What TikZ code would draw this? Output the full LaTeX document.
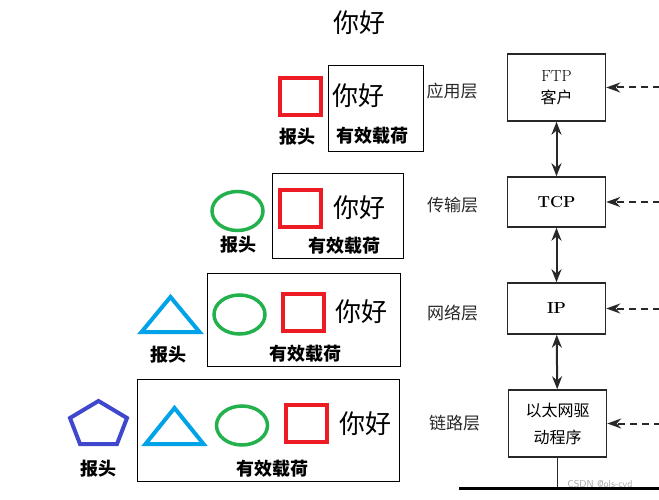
\documentclass[tikz,border=0pt]{standalone}
\usepackage{fontspec}
\newfontfamily\cjk{Noto Sans CJK SC}
\usetikzlibrary{positioning,arrows.meta,shapes.geometric}
\definecolor{hdrRed}{RGB}{237,28,36}
\definecolor{hdrGreen}{RGB}{34,177,76}
\definecolor{hdrBlue}{RGB}{0,162,232}
\definecolor{hdrIndigo}{RGB}{63,72,204}
\definecolor{scanGray}{RGB}{40,40,40}

\tikzset{
  hdrsq/.style={draw=hdrRed,line width=4pt,minimum width=41,minimum height=37,inner sep=0},
  hdrell/.style={draw=hdrGreen,ellipse,line width=3.5pt,minimum width=51,minimum height=39,inner sep=0},
  hello/.style={inner sep=0,font=\cjk\fontsize{26}{26}\selectfont},
  cjktxt/.style={inner sep=0,font=\cjk\bfseries\fontsize{18}{18}\selectfont},
  payload/.style={draw,line width=1pt,inner sep=0},
  layerbox/.style={draw=scanGray,line width=1.5pt,minimum width=98,inner sep=0,align=center},
  layertxt/.style={scanGray,inner sep=0,font=\cjk\fontsize{17}{17}\selectfont},
  updown/.style={scanGray,line width=2pt,{Stealth[length=13pt,width=10pt]}-{Stealth[length=13pt,width=10pt]}},
  sidein/.style={scanGray,line width=2pt,dash pattern=on 7pt off 5pt,-{Stealth[length=14pt,width=10pt]}}
}

\begin{document}
\begin{tikzpicture}[x=1pt,y=-1pt]
    \useasboundingbox (0,0) rectangle (659,500);
    \node[hello] (title) at (359.5,22.5) {你好};

    % application layer
    \node[payload,minimum width=95,minimum height=86] (pl1) at (375.5,109) {};
    \node[hdrsq] (sq1) at (300,97) {};
    \node[hello] (hi1) at (358.5,95.5) {你好};
    \node[cjktxt] (pt1) at (372,135.5) {有效载荷};
    \node[cjktxt] (hd1) at (297,136.5) {报头};

    % transport layer
    \node[payload,minimum width=131,minimum height=84] (pl2) at (337.5,216) {};
    \node[hdrell] (el2) at (237.5,211) {};
    \node[hdrsq] (sq2) at (300.5,208.5) {};
    \node[hello] (hi2) at (359,207.5) {你好};
    \node[cjktxt] (pt2) at (344,245.5) {有效载荷};
    \node[cjktxt] (hd2) at (238,245) {报头};

    % network layer
    \node[payload,minimum width=193,minimum height=93] (pl3) at (303.5,319.5) {};
    \draw[hdrBlue,line width=4pt] (141.5,332) -- (199.5,332) -- (170.5,297) -- cycle;
    \node[hdrell] (el3) at (239.5,314.5) {};
    \node[hdrsq] (sq3) at (303.5,312.5) {};
    \node[hello] (hi3) at (361.5,311.5) {你好};
    \node[cjktxt] (pt3) at (305,354) {有效载荷};
    \node[cjktxt] (hd3) at (168,355) {报头};

    % link layer
    \node[payload,minimum width=262,minimum height=102] (pl4) at (268,430) {};
    \draw[hdrIndigo,line width=4pt] (98.5,401) -- (127,418) -- (117,444) -- (80,444) -- (70,418) -- cycle;
    \draw[hdrBlue,line width=4pt] (145.5,444) -- (203.5,444) -- (174.5,408) -- cycle;
    \node[hdrell] (el4) at (242,425.5) {};
    \node[hdrsq] (sq4) at (306,423.5) {};
    \node[hello] (hi4) at (365,423.5) {你好};
    \node[cjktxt] (pt4) at (272.5,469) {有效载荷};
    \node[cjktxt] (hd4) at (98.5,469) {报头};

    % protocol stack
    \node[layerbox,minimum height=67,font=\fontsize{16}{22}\selectfont] (ftp) at (556.5,87.5)
      {FTP\\{\cjk 客户}};
    \node[layerbox,minimum height=50,font=\fontsize{16}{16}\selectfont\bfseries] (tcp) at (556.5,202) {TCP};
    \node[layerbox,minimum height=51,font=\fontsize{16}{16}\selectfont\bfseries] (ip) at (556.5,308.5) {IP};
    \node[layerbox,minimum height=67,font=\cjk\fontsize{16}{27}\selectfont] (drv) at (557.5,423.5)
      {以太网驱\\动程序};

    \node[layertxt] (ly1) at (452,91.5) {应用层};
    \node[layertxt] (ly2) at (452.5,205) {传输层};
    \node[layertxt] (ly3) at (452.5,313) {网络层};
    \node[layertxt] (ly4) at (454.5,423) {链路层};

    \draw[updown] (ftp) -- (tcp);
    \draw[updown] (tcp) -- (ip);
    \draw[updown] (ip) -- (drv);

    \coordinate[right=54pt of ftp.east] (in1);
    \coordinate[right=54pt of tcp.east] (in2);
    \coordinate[right=54pt of ip.east] (in3);
    \coordinate[right=54pt of drv.east] (in4);
    \draw[sidein] (in1) -- (ftp.east);
    \draw[sidein] (in2) -- (tcp.east);
    \draw[sidein] (in3) -- (ip.east);
    \draw[sidein] (in4) -- (drv.east);

    \coordinate (busL) at (459,488);
    \coordinate (busR) at (659,488);
    \draw[scanGray,line width=1.2pt] (drv.south) -- (drv.south |- busL);
    \draw[line width=3pt] (busL) -- (busR);
    \node[gray!70,font=\sffamily\fontsize{10}{10}\selectfont] (mark) at (600,484) {CSDN @ols-cvd};
  \end{tikzpicture}
\end{document}
